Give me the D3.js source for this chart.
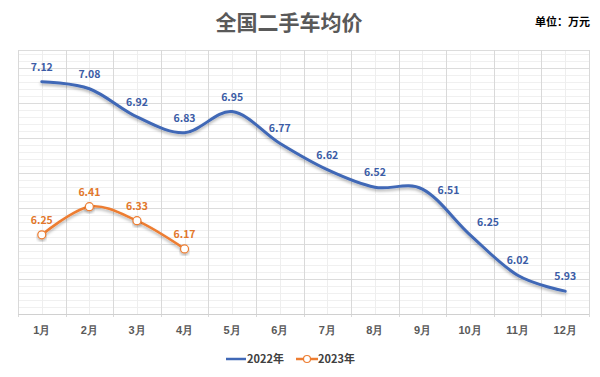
<!DOCTYPE html>
<html>
<head>
<meta charset="utf-8">
<script src="https://cdn.jsdelivr.net/npm/d3@7"></script>
<style>
  body { margin: 0; background: #fff; }
  svg { display: block; font-family: "Noto Sans CJK SC", "Noto Sans", sans-serif; }
</style>
</head>
<body>
<script>
// data
var months = ['1月', '2月', '3月', '4月', '5月', '6月', '7月', '8月', '9月', '10月', '11月', '12月'];
var values2022 = [7.12, 7.08, 6.92, 6.83, 6.95, 6.77, 6.62, 6.52, 6.51, 6.25, 6.02, 5.93];
var values2023 = [6.25, 6.41, 6.33, 6.17];
var seriesNames = ['2022年', '2023年'];

var width = 600, height = 377;
var plot = { left: 18, right: 589, top: 50, bottom: 314 };
var blue = '#4068B6', blueText = '#3B5CA6';
var orange = '#ED7D31', orangeText = '#E2772C';

var svg = d3.select('body').append('svg').attr('width', width).attr('height', height);

var defs = svg.append('defs');
var shadow = defs.append('filter').attr('id', 'shadow').attr('x', '-10%').attr('y', '-20%').attr('width', '120%').attr('height', '150%');
shadow.append('feDropShadow').attr('dx', 0).attr('dy', 2).attr('stdDeviation', 1.5).attr('flood-color', '#000').attr('flood-opacity', 0.3);

var x = d3.scaleBand().domain(months).range([plot.left, plot.right]).padding(0);
var cx = function (m) { return x(m) + x.bandwidth() / 2; };
var y = d3.scaleLinear().domain([5.8, 7.3]).range([plot.bottom, plot.top]);

// grid: minor then major
var grid = svg.append('g');
var minorY = d3.range(5.8, 7.3, 0.04);
grid.selectAll('.minor-y').data(minorY).enter().append('line')
  .attr('x1', plot.left).attr('x2', plot.right)
  .attr('y1', function (d) { return Math.round(y(d)) + 0.5; })
  .attr('y2', function (d) { return Math.round(y(d)) + 0.5; })
  .attr('stroke', '#F0F0F0');
grid.selectAll('.minor-x').data(months).enter().append('line')
  .attr('x1', function (d) { return Math.round(cx(d)) + 0.5; })
  .attr('x2', function (d) { return Math.round(cx(d)) + 0.5; })
  .attr('y1', plot.top).attr('y2', plot.bottom)
  .attr('stroke', '#EEEEEE');
var majorY = d3.range(6.0, 7.3, 0.2).concat([7.3]);
grid.selectAll('.major-y').data(majorY).enter().append('line')
  .attr('x1', plot.left).attr('x2', plot.right)
  .attr('y1', function (d) { return Math.round(y(d)) + 0.5; })
  .attr('y2', function (d) { return Math.round(y(d)) + 0.5; })
  .attr('stroke', '#DCDCDC');
var bounds = months.map(function (m) { return x(m); }).concat([plot.right]);
grid.selectAll('.major-x').data(bounds).enter().append('line')
  .attr('x1', function (d) { return Math.round(d) + 0.5; })
  .attr('x2', function (d) { return Math.round(d) + 0.5; })
  .attr('y1', plot.top).attr('y2', plot.bottom + 3)
  .attr('stroke', '#D9D9D9');
grid.append('line')
  .attr('x1', plot.left).attr('x2', plot.right)
  .attr('y1', plot.bottom + 0.5).attr('y2', plot.bottom + 0.5)
  .attr('stroke', '#D0D0D0');

// x axis labels
var xAxis = svg.append('g').attr('transform', 'translate(0,' + plot.bottom + ')')
  .call(d3.axisBottom(x).tickSize(0).tickPadding(12));
xAxis.select('.domain').remove();
xAxis.selectAll('text').attr('fill', '#595959').attr('font-size', 11).attr('font-weight', 'bold');

var line = d3.line()
  .x(function (d, i) { return cx(months[i]); })
  .y(function (d) { return y(d); })
  .curve(d3.curveCardinal.tension(0));

// label nudges: a couple of 2022 labels sit to the right of their point
function labelDx(i) { return i === 8 ? 26 : i === 9 ? 18 : 0; }
function labelDy(i) { return i === 8 ? 5 : i === 9 ? -9 : -11; }

// 2022
svg.append('path').datum(values2022).attr('d', line)
  .attr('fill', 'none').attr('stroke', blue).attr('stroke-width', 3)
  .attr('stroke-linecap', 'round').attr('filter', 'url(#shadow)');
svg.append('g').selectAll('text').data(values2022).enter().append('text')
  .attr('x', function (d, i) { return cx(months[i]) + labelDx(i); })
  .attr('y', function (d, i) { return y(d) + labelDy(i); })
  .attr('text-anchor', 'middle').attr('font-size', 10.5).attr('font-weight', 'bold')
  .attr('fill', blueText).text(function (d) { return d.toFixed(2); });

// 2023
svg.append('path').datum(values2023).attr('d', line)
  .attr('fill', 'none').attr('stroke', orange).attr('stroke-width', 2.5)
  .attr('stroke-linecap', 'round').attr('filter', 'url(#shadow)');
svg.append('g').selectAll('circle').data(values2023).enter().append('circle')
  .attr('cx', function (d, i) { return cx(months[i]); })
  .attr('cy', function (d) { return y(d); })
  .attr('r', 4).attr('fill', '#fff').attr('stroke', orange).attr('stroke-width', 1.2)
  .attr('filter', 'url(#shadow)');
svg.append('g').selectAll('text').data(values2023).enter().append('text')
  .attr('x', function (d, i) { return cx(months[i]); })
  .attr('y', function (d) { return y(d) - 11; })
  .attr('text-anchor', 'middle').attr('font-size', 10.5).attr('font-weight', 'bold')
  .attr('fill', orangeText).text(function (d) { return d.toFixed(2); });

// title + unit
svg.append('text').attr('x', 289).attr('y', 30).attr('text-anchor', 'middle')
  .attr('font-size', 21).attr('font-weight', 'bold').attr('fill', '#595959')
  .text('全国二手车均价');
svg.append('text').attr('x', 590).attr('y', 26).attr('text-anchor', 'end')
  .attr('font-size', 11).attr('font-weight', 'bold').attr('fill', '#000')
  .text('单位：万元');

// legend
var legend = svg.append('g').attr('transform', 'translate(0,359)');
legend.append('line').attr('x1', 226).attr('x2', 246).attr('y1', 0).attr('y2', 0)
  .attr('stroke', blue).attr('stroke-width', 2.5);
legend.append('text').attr('x', 247).attr('y', 4).attr('font-size', 11).attr('font-weight', 'bold')
  .attr('fill', '#404040').text(seriesNames[0]);
legend.append('line').attr('x1', 296).attr('x2', 318).attr('y1', 0).attr('y2', 0)
  .attr('stroke', orange).attr('stroke-width', 2.5);
legend.append('circle').attr('cx', 307).attr('cy', 0).attr('r', 3.5)
  .attr('fill', '#fff').attr('stroke', orange).attr('stroke-width', 1.2);
legend.append('text').attr('x', 318).attr('y', 4).attr('font-size', 11).attr('font-weight', 'bold')
  .attr('fill', '#404040').text(seriesNames[1]);
</script>
</body>
</html>
